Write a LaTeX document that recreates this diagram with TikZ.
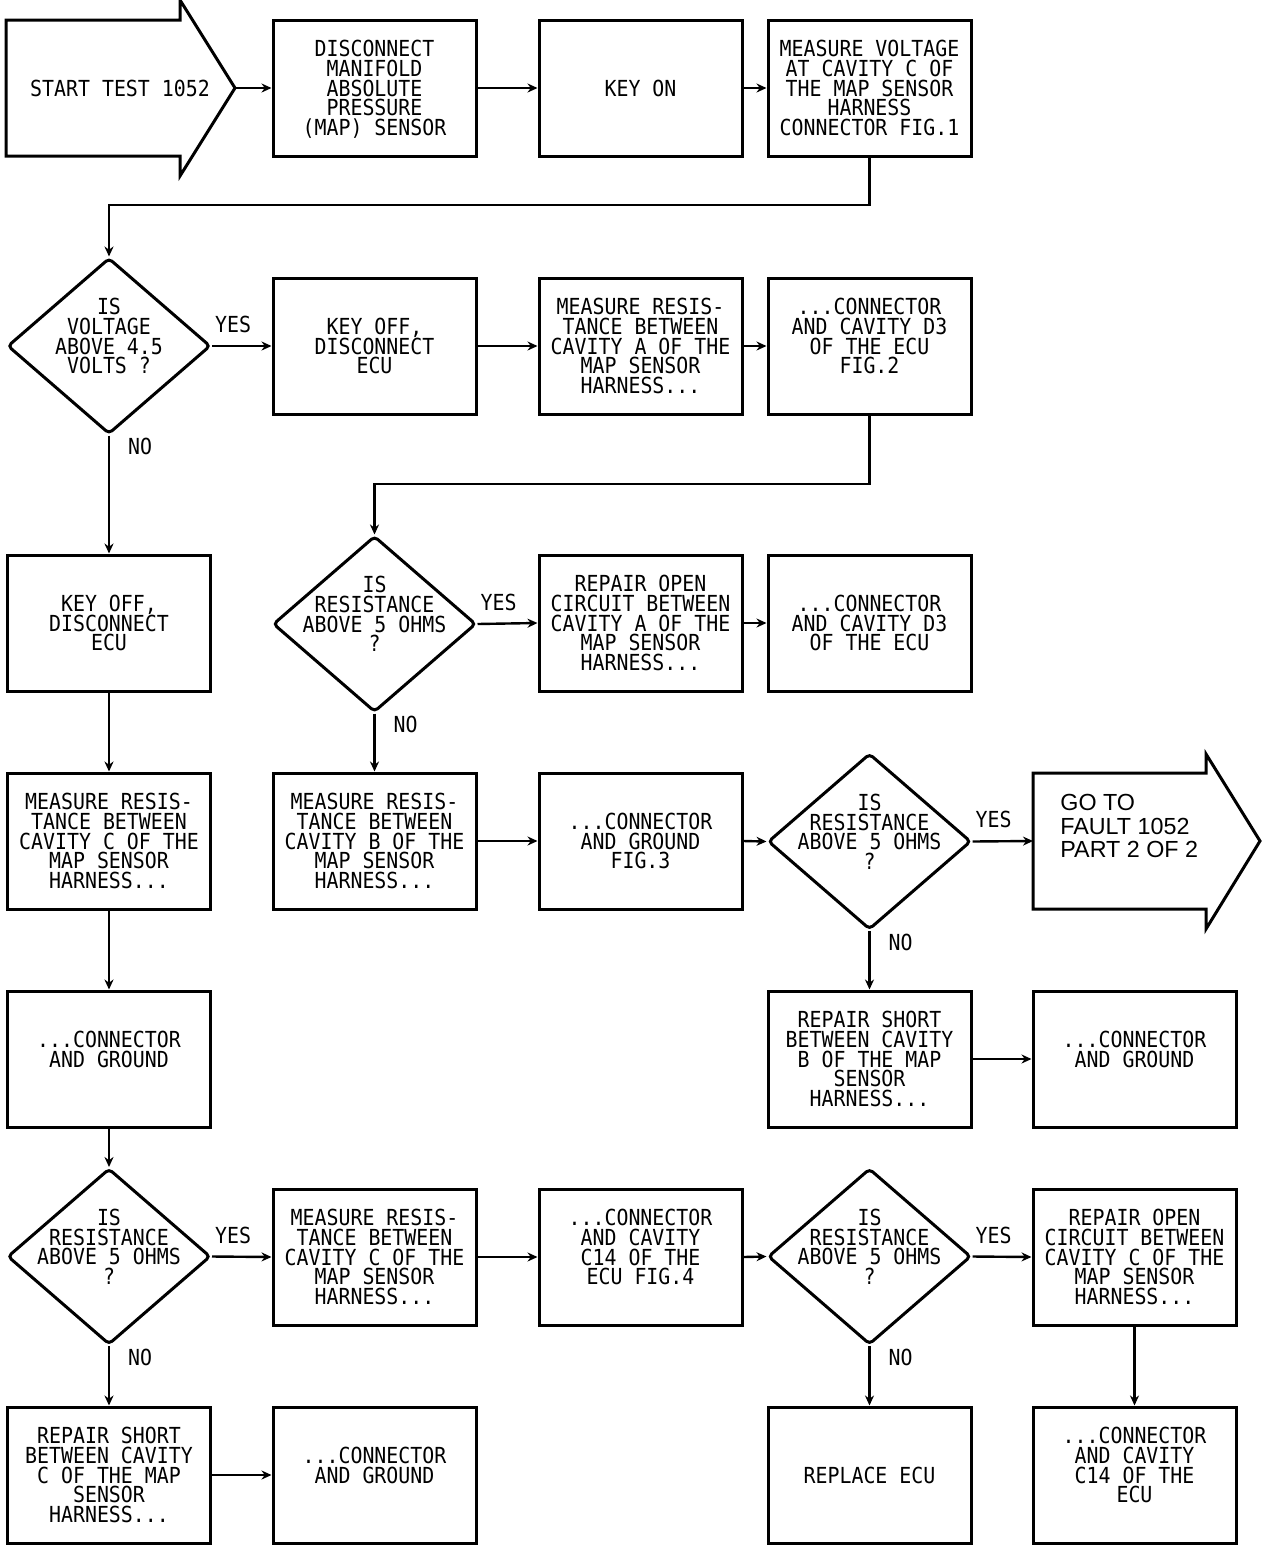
\documentclass[tikz,border=0pt]{standalone}
\usepackage{fontspec}
\usetikzlibrary{shapes.geometric,arrows.meta}
\newfontfamily\chartfont[FakeStretch=0.9]{DejaVu Sans Mono}
\newfontfamily\gotofont{Liberation Sans}
\newcommand{\chartsize}{\chartfont\fontsize{11.05}{9.85}\selectfont\lineskiplimit=-20pt}
\tikzset{
  stepbox/.style={draw,line width=1.5pt,minimum width=101.5pt,minimum height=68pt,
    inner sep=0pt,align=center,text depth=0pt,font=\chartsize},
  query/.style={diamond,draw,line width=1.5pt,minimum width=101.5pt,minimum height=88pt,
    inner sep=0pt,rounded corners=2pt},
  qtext/.style={align=center,inner sep=0pt,text depth=0pt,font=\chartsize},
  conn/.style={line width=1.2pt,-{Stealth[length=5pt,width=4.5pt]}},
  ylab/.style={font=\chartsize,inner sep=0pt,anchor=south west,xshift=1pt,yshift=6pt},
  nlab/.style={font=\chartsize,inner sep=0pt,anchor=north west,xshift=9pt,yshift=-0.8pt},
  bigarrow/.style={draw,line width=1.5pt,line join=miter}
}
\begin{document}
\begin{tikzpicture}[x=0.5pt,y=-0.5pt]
  \useasboundingbox (0,0) rectangle (1280,1548);

  % entry and exit arrows
  \draw[bigarrow] (6,20) -- (180,20) -- (180,0) -- (235,88) -- (180,176) -- (180,156) -- (6,156) -- cycle;
  \node[font=\chartsize,inner sep=0pt] (start) at (120,88) {START TEST 1052};
  \coordinate (starttip) at (235,88);

  \draw[bigarrow] (1033,773) -- (1206,773) -- (1206,754) -- (1260,841) -- (1206,929) -- (1206,909) -- (1033,909) -- cycle;
  \node[font=\gotofont\fontsize{11.65}{11.75}\selectfont,align=left,anchor=west,inner sep=0pt,text depth=0pt] (goto) at (1060,826) {GO TO\\FAULT 1052\\PART 2 OF 2};
  \coordinate (gotoin) at (1033,841);

  % row 1
  \node[stepbox] (disc) at (374.5,88) {DISCONNECT\\MANIFOLD\\ABSOLUTE\\PRESSURE\\(MAP) SENSOR};
  \node[stepbox] (keyon) at (640.5,88) {KEY ON};
  \node[stepbox] (mvolt) at (869.5,88) {MEASURE VOLTAGE\\AT CAVITY C OF\\THE MAP SENSOR\\HARNESS\\CONNECTOR FIG.1};

  % row 2
  \node[query,label={[qtext]center:{IS\\VOLTAGE\\ABOVE 4.5\\VOLTS ?\\~}}] (d1) at (109,346) {};
  \node[stepbox] (koffA) at (374.5,346) {KEY OFF,\\DISCONNECT\\ECU};
  \node[stepbox] (mresA) at (640.5,346) {MEASURE RESIS-\\TANCE BETWEEN\\CAVITY A OF THE\\MAP SENSOR\\HARNESS...};
  \node[stepbox] (conA) at (869.5,346) {...CONNECTOR\\AND CAVITY D3\\OF THE ECU\\FIG.2\\~};

  % row 3
  \node[stepbox] (koffB) at (109,623) {KEY OFF,\\DISCONNECT\\ECU};
  \node[query,label={[qtext]center:{IS\\RESISTANCE\\ABOVE 5 OHMS\\?\\~}}] (d2) at (374.5,624) {};
  \node[stepbox] (ropenA) at (640.5,623) {REPAIR OPEN\\CIRCUIT BETWEEN\\CAVITY A OF THE\\MAP SENSOR\\HARNESS...};
  \node[stepbox] (conA2) at (869.5,623) {...CONNECTOR\\AND CAVITY D3\\OF THE ECU};

  % row 4
  \node[stepbox] (mresC) at (109,841) {MEASURE RESIS-\\TANCE BETWEEN\\CAVITY C OF THE\\MAP SENSOR\\HARNESS...};
  \node[stepbox] (mresB) at (374.5,841) {MEASURE RESIS-\\TANCE BETWEEN\\CAVITY B OF THE\\MAP SENSOR\\HARNESS...};
  \node[stepbox] (gndB) at (640.5,841) {...CONNECTOR\\AND GROUND\\FIG.3};
  \node[query,label={[qtext]center:{IS\\RESISTANCE\\ABOVE 5 OHMS\\?\\~}}] (d3) at (869.5,841.5) {};

  % row 5
  \node[stepbox] (gndC) at (109,1059) {...CONNECTOR\\AND GROUND\\~};
  \node[stepbox] (rshortB) at (869.5,1059) {REPAIR SHORT\\BETWEEN CAVITY\\B OF THE MAP\\SENSOR\\HARNESS...};
  \node[stepbox] (gndB2) at (1134.5,1059) {...CONNECTOR\\AND GROUND\\~};

  % row 6
  \node[query,label={[qtext]center:{IS\\RESISTANCE\\ABOVE 5 OHMS\\?\\~}}] (d4) at (109,1256.5) {};
  \node[stepbox] (mresC2) at (374.5,1257) {MEASURE RESIS-\\TANCE BETWEEN\\CAVITY C OF THE\\MAP SENSOR\\HARNESS...};
  \node[stepbox] (conC) at (640.5,1257) {...CONNECTOR\\AND CAVITY\\C14 OF THE\\ECU FIG.4\\~};
  \node[query,label={[qtext]center:{IS\\RESISTANCE\\ABOVE 5 OHMS\\?\\~}}] (d5) at (869.5,1256.5) {};
  \node[stepbox] (ropenC) at (1134.5,1257) {REPAIR OPEN\\CIRCUIT BETWEEN\\CAVITY C OF THE\\MAP SENSOR\\HARNESS...};

  % row 7
  \node[stepbox] (rshortC) at (109,1475) {REPAIR SHORT\\BETWEEN CAVITY\\C OF THE MAP\\SENSOR\\HARNESS...};
  \node[stepbox] (gndC2) at (374.5,1475) {...CONNECTOR\\AND GROUND\\~};
  \node[stepbox] (replace) at (869.5,1475) {REPLACE ECU};
  \node[stepbox] (conC2) at (1134.5,1475) {...CONNECTOR\\AND CAVITY\\C14 OF THE\\ECU\\~};

  \coordinate (k1) at (109,205);
  \coordinate (k2) at (374.5,484);

  % connectors
  \draw[conn] (starttip) -- (disc);
  \draw[conn] (disc) -- (keyon);
  \draw[conn] (keyon) -- (mvolt);
  \draw[conn] (mvolt.south) |- (k1) -- (d1.north);

  \draw[conn] (d1.east) -- node[ylab,pos=0]{YES} (koffA.west);
  \draw[conn] (koffA) -- (mresA);
  \draw[conn] (mresA) -- (conA);
  \draw[conn] (conA.south) |- (k2) -- (d2.north);
  \draw[conn] (d1.south) -- node[nlab,pos=0]{NO} (koffB.north);

  \draw[conn] (d2.east) -- node[ylab,pos=0]{YES} (ropenA.west);
  \draw[conn] (ropenA) -- (conA2);
  \draw[conn] (d2.south) -- node[nlab,pos=0]{NO} (mresB.north);
  \draw[conn] (koffB) -- (mresC);

  \draw[conn] (mresB) -- (gndB);
  \draw[conn] (gndB.east) -- (d3.west);
  \draw[conn] (d3.east) -- node[ylab,pos=0]{YES} (gotoin);
  \draw[conn] (d3.south) -- node[nlab,pos=0]{NO} (rshortB.north);
  \draw[conn] (rshortB) -- (gndB2);

  \draw[conn] (mresC) -- (gndC);
  \draw[conn] (gndC.south) -- (d4.north);
  \draw[conn] (d4.east) -- node[ylab,pos=0]{YES} (mresC2.west);
  \draw[conn] (mresC2) -- (conC);
  \draw[conn] (conC.east) -- (d5.west);
  \draw[conn] (d5.east) -- node[ylab,pos=0]{YES} (ropenC.west);
  \draw[conn] (d5.south) -- node[nlab,pos=0]{NO} (replace.north);
  \draw[conn] (ropenC) -- (conC2);
  \draw[conn] (d4.south) -- node[nlab,pos=0]{NO} (rshortC.north);
  \draw[conn] (rshortC) -- (gndC2);

\end{tikzpicture}
\end{document}
